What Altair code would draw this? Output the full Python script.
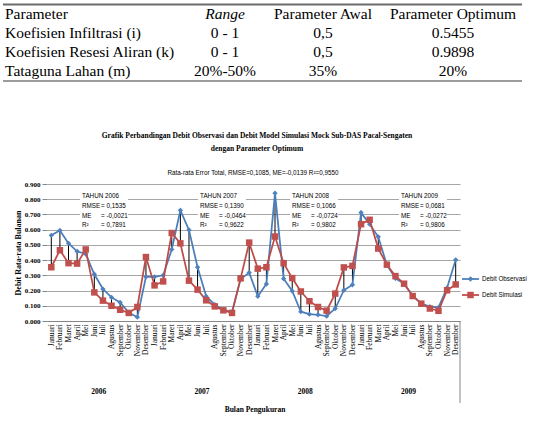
import altair as alt
import pandas as pd

# ---------------- data ----------------
months = ["Januari", "Februari", "Maret", "April", "Mei", "Juni", "Juli",
          "Agustus", "September", "Oktober", "November", "Desember"]
years = ["2006", "2007", "2008", "2009"]

debit_observasi = [
    0.563, 0.595, 0.510, 0.458, 0.440, 0.307, 0.210, 0.155, 0.122, 0.055, 0.025, 0.290,
    0.290, 0.300, 0.470, 0.727, 0.598, 0.353, 0.162, 0.107, 0.074, 0.060, 0.275, 0.318,
    0.162, 0.243, 0.840, 0.278, 0.197, 0.061, 0.045, 0.041, 0.032, 0.082, 0.202, 0.238,
    0.712, 0.636, 0.553, 0.368, 0.280, 0.244, 0.168, 0.114, 0.094, 0.089, 0.218, 0.402,
]
debit_simulasi = [
    0.353, 0.465, 0.380, 0.377, 0.470, 0.188, 0.134, 0.100, 0.074, 0.053, 0.092, 0.420,
    0.234, 0.260, 0.578, 0.510, 0.265, 0.206, 0.136, 0.096, 0.070, 0.053, 0.280, 0.515,
    0.344, 0.353, 0.555, 0.380, 0.282, 0.194, 0.130, 0.092, 0.068, 0.180, 0.352, 0.362,
    0.636, 0.665, 0.476, 0.370, 0.295, 0.245, 0.164, 0.114, 0.082, 0.067, 0.202, 0.240,
]
y_ticks = [0.0, 0.1, 0.2, 0.3, 0.4, 0.5, 0.6, 0.7, 0.8, 0.9]

table_header = ["Parameter", "Range", "Parameter Awal", "Parameter Optimum"]
param_names = ["Koefisien Infiltrasi (i)", "Koefisien Resesi Aliran (k)", "Tataguna Lahan (m)"]
param_range = ["0 - 1", "0 - 1", "20%-50%"]
param_awal = ["0,5", "0,5", "35%"]
param_optimum = ["0.5455", "0.9898", "20%"]

chart_title = ["Grafik Perbandingan Debit Observasi dan Debit Model Simulasi Mock Sub-DAS Pacal-Sengaten",
               "dengan Parameter Optimum"]
chart_subtitle = "Rata-rata Error Total, RMSE=0,1085, ME=-0,0139 R²=0,9550"
x_title = "Bulan Pengukuran"
y_title = "Debit Rata-rata Bulanan"
series_names = ["Debit Observasi", "Debit Simulasi"]

ann_year = ["TAHUN 2006", "TAHUN 2007", "TAHUN 2008", "TAHUN 2009"]
ann_rmse = ["0,1535", "0,1390", "0,1066", "0,0681"]
ann_me = ["-0,0021", "-0,0464", "-0,0724", "-0,0272"]
ann_r2 = ["0,7891", "0,9622", "0,9802", "0,9806"]

# ---------------- tables ----------------
n = len(debit_observasi)
df = pd.DataFrame({
    "idx": list(range(n)),
    "obs": debit_observasi,
    "sim": debit_simulasi,
})
df_years = pd.DataFrame({
    "year": years,
    "mid": [sum(range(12 * k, 12 * k + 12)) / 12 for k in range(len(years))],
})
dummy = pd.DataFrame({"d": [0]})

# ---------------- style ----------------
SERIF = "Liberation Serif"
SANS = "Liberation Sans"
BLUE_LINE, BLUE_MARK = "#4a7ebb", "#4f81bd"
RED_LINE, RED_MARK = "#be4b48", "#c0504d"
W, H = 413, 137

months_js = "[" + ",".join("'" + m + "'" for m in months) + "]"


def make_x(field):
    return alt.X(
        f"{field}:Q",
        scale=alt.Scale(domain=[-0.5, n - 0.5], nice=False, zero=False),
        axis=alt.Axis(
            values=list(range(n)), labelExpr=f"{months_js}[datum.value % 12]",
            labelAngle=-90, labelFont=SERIF, labelFontSize=7.5, labelColor="#000",
            labelPadding=3, labelFlush=False, labelOverlap=False, labelBound=False,
            ticks=False, grid=False, domainColor="#868686", domainWidth=1, title=None,
        ),
    )


def make_y(field):
    return alt.Y(
        f"{field}:Q",
        scale=alt.Scale(domain=[0, 0.9], nice=False),
        axis=alt.Axis(
            values=y_ticks, format=".3f", labelFont=SERIF, labelFontSize=7,
            labelFontWeight="bold", labelColor="#000", labelPadding=2,
            tickSize=5, tickColor="#868686", domain=False,
            grid=True, gridColor="#a6a6a6", gridWidth=1,
            title=y_title, titleFont=SERIF, titleFontSize=8, titleFontWeight="bold",
            titleColor="#000", titleX=-29, titleY=H / 2, titleAngle=-90,
            titleAlign="center", titleBaseline="middle",
        ),
    )


base = alt.Chart(df)

hilo = base.mark_rule(color="#000", strokeWidth=1).encode(
    x=make_x("idx"), y=make_y("obs"), y2="sim:Q")
obs_line = base.mark_line(color=BLUE_LINE, strokeWidth=1.75).encode(x=make_x("idx"), y=make_y("obs"))
obs_pts = base.mark_point(shape="diamond", filled=True, size=28, color=BLUE_MARK, opacity=1).encode(
    x=make_x("idx"), y=make_y("obs"))
sim_line = base.mark_line(color=RED_LINE, strokeWidth=1.75).encode(x=make_x("idx"), y=make_y("sim"))
sim_pts = base.mark_square(size=42, color=RED_MARK, opacity=1).encode(x=make_x("idx"), y=make_y("sim"))

year_txt = alt.Chart(df_years).mark_text(
    font=SERIF, fontSize=7.5, fontWeight="bold", color="#000", baseline="middle"
).encode(x=make_x("mid"), y=alt.value(208), text="year:N")

txt = alt.Chart(dummy)
layers = []

# table
layers.append(txt.mark_rule(color="#6b6b6b", strokeWidth=2).encode(
    x=alt.value(-44), x2=alt.value(475), y=alt.value(-179.5)))
layers.append(txt.mark_rule(color="#7a7a7a", strokeWidth=1.5).encode(
    x=alt.value(-44), x2=alt.value(475), y=alt.value(-103)))
col_x = [-42, 178, 276, 406]
col_align = ["left", "center", "center", "center"]
col_body = [param_names, param_range, param_awal, param_optimum]
for i in range(4):
    layers.append(txt.mark_text(
        text=table_header[i], font=SERIF, fontSize=15.5, color="#000", align=col_align[i],
        baseline="alphabetic", fontStyle="italic" if i == 1 else "normal",
    ).encode(x=alt.value(col_x[i]), y=alt.value(-165)))
    layers.append(txt.mark_text(
        text=col_body[i], font=SERIF, fontSize=15.5, color="#000", align=col_align[i],
        baseline="alphabetic", lineHeight=19,
    ).encode(x=alt.value(col_x[i]), y=alt.value(-146)))

# chart titles
layers.append(txt.mark_text(
    text=chart_title, font=SERIF, fontSize=7.5, fontWeight="bold", color="#000",
    align="center", baseline="alphabetic", lineHeight=13,
).encode(x=alt.value(210), y=alt.value(-46.5)))
layers.append(txt.mark_text(
    text=chart_subtitle, font=SANS, fontSize=6.3, color="#000", align="center", baseline="middle",
).encode(x=alt.value(206), y=alt.value(-11)))
layers.append(txt.mark_text(
    text=x_title, font=SERIF, fontSize=7.5, fontWeight="bold", color="#000", align="center",
    baseline="middle",
).encode(x=alt.value(208), y=alt.value(226)))

# right border of category area
layers.append(txt.mark_rule(color="#868686", strokeWidth=1).encode(
    x=alt.value(W), y=alt.value(H), y2=alt.value(219)))

# annotation boxes
box_left = [35, 153, 245, 354]
for k in range(4):
    L = box_left[k]
    layers.append(txt.mark_rect(color="white").encode(
        x=alt.value(L - 2), x2=alt.value(L + 46), y=alt.value(4), y2=alt.value(44)))
    layers.append(txt.mark_text(
        text=ann_year[k], font=SANS, fontSize=6.3, color="#000", align="left", baseline="middle",
    ).encode(x=alt.value(L), y=alt.value(12)))
    layers.append(txt.mark_text(
        text=["RMSE", "ME", "R²"], font=SANS, fontSize=6.3, color="#000", align="left",
        baseline="alphabetic", lineHeight=9.7,
    ).encode(x=alt.value(L), y=alt.value(24)))
    layers.append(txt.mark_text(
        text=["= " + ann_rmse[k], "= " + ann_me[k], "= " + ann_r2[k]], font=SANS, fontSize=6.3,
        color="#000", align="left", baseline="alphabetic", lineHeight=9.7,
    ).encode(x=alt.value(L + 19), y=alt.value(24)))

# legend
leg_y = [95, 111]
leg_col = [(BLUE_LINE, BLUE_MARK, "diamond", 28), (RED_LINE, RED_MARK, "square", 42)]
for j in range(2):
    lc, mc, shp, sz = leg_col[j]
    layers.append(txt.mark_rule(color=lc, strokeWidth=1.75).encode(
        x=alt.value(415), x2=alt.value(432), y=alt.value(leg_y[j])))
    layers.append(txt.mark_point(shape=shp, filled=True, size=sz, color=mc, opacity=1).encode(
        x=alt.value(423.5), y=alt.value(leg_y[j])))
    layers.append(txt.mark_text(
        text=series_names[j], font=SANS, fontSize=6.3, color="#000", align="left", baseline="middle",
    ).encode(x=alt.value(435), y=alt.value(leg_y[j])))

chart = alt.layer(
    hilo, *layers, obs_line, obs_pts, sim_line, sim_pts, year_txt
).properties(
    width=W, height=H,
    padding={"left": 47, "top": 184, "right": 86, "bottom": 107},
    autosize=alt.AutoSizeParams(type="none"),
    background="white",
).configure_view(stroke=None)

chart.save("out.html", embed_options={"renderer": "svg", "actions": False})
